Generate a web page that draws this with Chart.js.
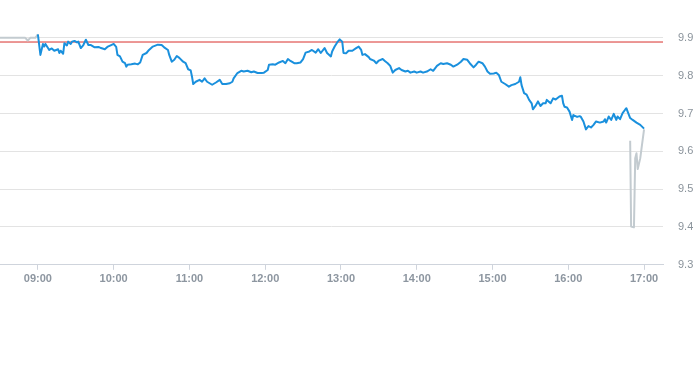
<!DOCTYPE html>
<html>
<head>
<meta charset="utf-8">
<script src="https://cdn.jsdelivr.net/npm/chart.js@4"></script>
<style>
  html, body { margin: 0; padding: 0; background: #fff; }
  #wrap { width: 693px; height: 365px; position: relative; }
</style>
</head>
<body>
<div id="wrap"><canvas id="chart"></canvas></div>
<script>
// pre-market (grey)
const preTimes = ['08:30', '08:50', '08:52', '08:54', '08:58', '09:00'];
const prePrices = [9.90, 9.90, 9.893, 9.90, 9.90, 9.909];

// regular session (blue)
const sessionTimes = [
  '09:00', '09:02', '09:04', '09:05', '09:06', '09:09', '09:11', '09:13', '09:16', '09:17',
  '09:18', '09:20', '09:21', '09:23', '09:24', '09:26', '09:27', '09:29', '09:31', '09:32',
  '09:34', '09:36', '09:38', '09:40', '09:42', '09:45', '09:48', '09:50', '09:53', '09:55',
  '09:58', '10:00', '10:02', '10:03', '10:05', '10:07', '10:09', '10:10', '10:11', '10:14',
  '10:17', '10:19', '10:21', '10:23', '10:26', '10:28', '10:31', '10:35', '10:38', '10:40',
  '10:43', '10:44', '10:46', '10:48', '10:50', '10:52', '10:55', '10:57', '10:59', '11:01',
  '11:02', '11:03', '11:05', '11:08', '11:10', '11:12', '11:14', '11:16', '11:18', '11:21',
  '11:24', '11:26', '11:29', '11:32', '11:34', '11:35', '11:38', '11:41', '11:43', '11:46',
  '11:49', '11:51', '11:54', '11:57', '11:59', '12:02', '12:03', '12:06', '12:08', '12:11',
  '12:14', '12:16', '12:18', '12:20', '12:23', '12:25', '12:28', '12:30', '12:32', '12:35',
  '12:37', '12:40', '12:42', '12:44', '12:47', '12:49', '12:52', '12:53', '12:55', '12:57',
  '12:59', '13:01', '13:02', '13:04', '13:06', '13:09', '13:12', '13:14', '13:16', '13:17',
  '13:19', '13:22', '13:23', '13:26', '13:28', '13:30', '13:33', '13:35', '13:37', '13:39',
  '13:41', '13:43', '13:46', '13:48', '13:51', '13:53', '13:55', '13:58', '14:00', '14:03',
  '14:05', '14:08', '14:11', '14:13', '14:16', '14:19', '14:21', '14:24', '14:27', '14:29',
  '14:32', '14:35', '14:37', '14:40', '14:42', '14:45', '14:47', '14:49', '14:52', '14:54',
  '14:56', '14:58', '15:01', '15:03', '15:05', '15:07', '15:10', '15:13', '15:15', '15:18',
  '15:21', '15:22', '15:23', '15:25', '15:27', '15:29', '15:31', '15:32', '15:34', '15:36',
  '15:38', '15:40', '15:42', '15:43', '15:46', '15:48', '15:50', '15:53', '15:55', '15:56',
  '15:57', '15:59', '16:01', '16:03', '16:04', '16:07', '16:09', '16:10', '16:12', '16:14',
  '16:16', '16:18', '16:20', '16:22', '16:25', '16:28', '16:29', '16:30', '16:32', '16:34',
  '16:36', '16:38', '16:39', '16:41', '16:43', '16:45', '16:46', '16:47', '16:49', '16:51',
  '16:54', '16:57', '17:00'
];
const sessionPrices = [
  9.909, 9.855, 9.884, 9.877, 9.884, 9.868, 9.872, 9.866, 9.870, 9.860,
  9.866, 9.858, 9.886, 9.880, 9.890, 9.884, 9.890, 9.892, 9.888, 9.890,
  9.873, 9.881, 9.895, 9.881, 9.881, 9.875, 9.876, 9.873, 9.870, 9.876,
  9.881, 9.884, 9.876, 9.855, 9.851, 9.837, 9.833, 9.824, 9.829, 9.830,
  9.832, 9.830, 9.835, 9.855, 9.860, 9.868, 9.877, 9.882, 9.881, 9.875,
  9.868, 9.855, 9.837, 9.842, 9.852, 9.847, 9.837, 9.833, 9.817, 9.814,
  9.798, 9.778, 9.784, 9.789, 9.784, 9.793, 9.784, 9.780, 9.776, 9.782,
  9.789, 9.778, 9.778, 9.780, 9.784, 9.793, 9.807, 9.813, 9.811, 9.813,
  9.809, 9.811, 9.807, 9.807, 9.808, 9.815, 9.829, 9.830, 9.829, 9.835,
  9.839, 9.833, 9.844, 9.839, 9.833, 9.833, 9.835, 9.844, 9.861, 9.864,
  9.868, 9.861, 9.870, 9.860, 9.873, 9.860, 9.851, 9.864, 9.877, 9.888,
  9.896, 9.890, 9.860, 9.859, 9.866, 9.866, 9.873, 9.877, 9.868, 9.855,
  9.857, 9.849, 9.844, 9.840, 9.833, 9.840, 9.844, 9.838, 9.833, 9.826,
  9.808, 9.815, 9.820, 9.815, 9.811, 9.813, 9.808, 9.811, 9.808, 9.811,
  9.808, 9.811, 9.817, 9.813, 9.826, 9.833, 9.831, 9.833, 9.829, 9.824,
  9.829, 9.837, 9.844, 9.842, 9.833, 9.822, 9.829, 9.837, 9.833, 9.824,
  9.811, 9.805, 9.806, 9.808, 9.802, 9.784, 9.778, 9.771, 9.775, 9.778,
  9.784, 9.796, 9.775, 9.754, 9.750, 9.736, 9.727, 9.711, 9.720, 9.732,
  9.720, 9.727, 9.727, 9.736, 9.727, 9.740, 9.737, 9.745, 9.747, 9.727,
  9.718, 9.716, 9.705, 9.683, 9.696, 9.691, 9.693, 9.691, 9.679, 9.658,
  9.667, 9.663, 9.670, 9.679, 9.676, 9.679, 9.685, 9.676, 9.692, 9.683,
  9.699, 9.683, 9.692, 9.685, 9.701, 9.710, 9.714, 9.705, 9.688, 9.683,
  9.676, 9.670, 9.660
];

// after-hours (grey)
const postTimes = ['16:49:00', '16:49:45', '16:52:00', '16:53:00', '16:54:00', '16:55:00', '16:57:00', '16:58:00', '17:00:00'];
const postPrices = [9.628, 9.401, 9.399, 9.582, 9.595, 9.553, 9.582, 9.608, 9.658];

const prevClose = 9.889;
const yTicks = [9.3, 9.4, 9.5, 9.6, 9.7, 9.8, 9.9];
const xTickLabels = ['09:00', '10:00', '11:00', '12:00', '13:00', '14:00', '15:00', '16:00', '17:00'];
const xStart = '08:30';
const xEnd = '17:15';

function toMin(t) {
  const p = t.split(':').map(Number);
  return p[0] * 60 + p[1] + (p[2] || 0) / 60;
}
function toLabel(m) {
  const h = Math.floor(m / 60), mm = Math.round(m % 60);
  return String(h).padStart(2, '0') + ':' + String(mm).padStart(2, '0');
}
const pts = (times, vals) => times.map((t, i) => ({ x: toMin(t), y: vals[i] }));

const lineStyle = { pointRadius: 0, borderWidth: 2, tension: 0, borderJoinStyle: 'round', fill: false };

new Chart(document.getElementById('chart'), {
  type: 'line',
  data: {
    datasets: [
      { ...lineStyle, data: pts(sessionTimes, sessionPrices), borderColor: '#1a90dd', order: 1 },
      { ...lineStyle, data: pts(preTimes, prePrices), borderColor: '#c3cbd0', order: 2 },
      { ...lineStyle, data: pts(postTimes, postPrices), borderColor: '#c3cbd0', order: 2 },
      { ...lineStyle, data: [{ x: toMin(xStart), y: prevClose }, { x: toMin(xEnd), y: prevClose }],
        borderColor: '#d9302c', borderWidth: 1, order: 3 }
    ]
  },
  options: {
    responsive: true,
    maintainAspectRatio: false,
    animation: false,
    layout: { padding: { left: 0, right: 0, top: 0, bottom: 76 } },
    plugins: { legend: { display: false }, tooltip: { enabled: false } },
    scales: {
      x: {
        type: 'linear',
        min: toMin(xStart),
        max: toMin(xEnd),
        afterBuildTicks: axis => { axis.ticks = xTickLabels.map(l => ({ value: toMin(l) })); },
        grid: { drawOnChartArea: false, drawTicks: true, tickLength: 5, color: '#cfd4dc' },
        border: { display: true, color: '#cfd4dc' },
        ticks: {
          padding: 3,
          maxRotation: 0,
          autoSkip: false,
          color: '#8d96a0',
          font: { family: 'Liberation Sans, Arial, sans-serif', size: 11, weight: 'bold' },
          callback: v => toLabel(v)
        }
      },
      y: {
        position: 'right',
        min: 9.3,
        max: 9.943,
        afterBuildTicks: axis => { axis.ticks = yTicks.map(v => ({ value: v })); },
        afterFit: scale => { scale.width = 30; },
        grid: { color: '#e3e3e3', drawTicks: false },
        border: { display: false },
        ticks: {
          padding: 15,
          color: '#8a939b',
          font: { family: 'Liberation Sans, Arial, sans-serif', size: 11 },
          callback: v => v.toFixed(1)
        }
      }
    }
  }
});
</script>
</body>
</html>
